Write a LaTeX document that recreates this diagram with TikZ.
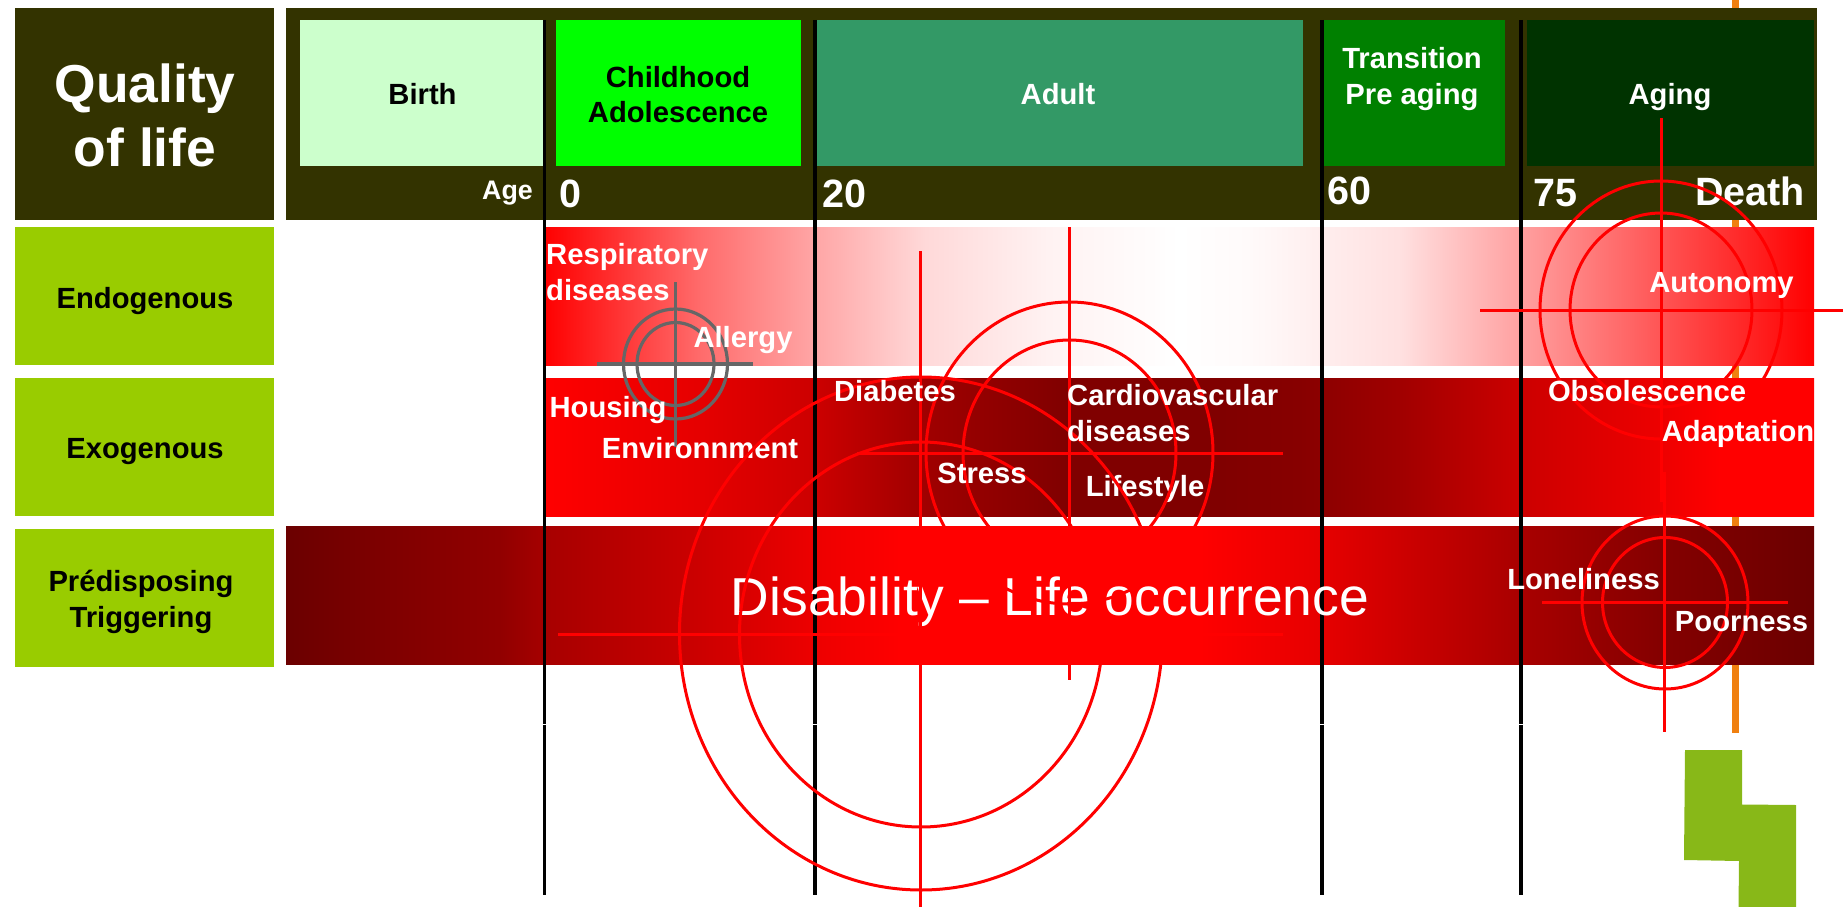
\documentclass[tikz,border=0pt]{standalone}
\usepackage{fontspec}
\setmainfont{Liberation Sans}
\definecolor{headbg}{HTML}{333300}
\definecolor{rowgreen}{HTML}{99CC00}
\definecolor{cBirth}{HTML}{CCFFCC}
\definecolor{cChild}{HTML}{00FF00}
\definecolor{cAdult}{HTML}{339966}
\definecolor{cTrans}{HTML}{008000}
\definecolor{cAging}{HTML}{003300}
\definecolor{lineorange}{HTML}{F08010}
\definecolor{logogreen}{HTML}{88B818}
\definecolor{greycross}{HTML}{666666}
\pgfdeclarehorizontalshading{endoshade}{100bp}{rgb(0bp)=(1,0,0);rgb(25bp)=(1,0,0);rgb(31.14bp)=(1,.42,.42);rgb(35.67bp)=(1,.65,.65);rgb(40bp)=(1,.85,.85);rgb(44.9bp)=(1,.95,.95);rgb(50.04bp)=(1,1,1);rgb(52.8bp)=(1,.98,.98);rgb(58.7bp)=(1,.88,.88);rgb(63.46bp)=(1,.627,.627);rgb(68.94bp)=(1,.333,.333);rgb(75bp)=(1,0,0);rgb(100bp)=(1,0,0)}
\pgfdeclarehorizontalshading{exoshade}{100bp}{rgb(0bp)=(1,0,0);rgb(25bp)=(1,0,0);rgb(31.14bp)=(.9,0,0);rgb(35.67bp)=(.8,0,0);rgb(39.8bp)=(.63,0,0);rgb(45.67bp)=(.5,0,0);rgb(51.38bp)=(.5,0,0);rgb(54.76bp)=(.53,0,0);rgb(58.7bp)=(.63,0,0);rgb(63.46bp)=(.8,0,0);rgb(68.94bp)=(.93,0,0);rgb(71.3bp)=(1,0,0);rgb(100bp)=(1,0,0)}
\pgfdeclarehorizontalshading{predshade}{100bp}{rgb(0bp)=(.42,0,0);rgb(25bp)=(.42,0,0);rgb(28.4bp)=(.5,0,0);rgb(32bp)=(.57,0,0);rgb(33.64bp)=(.66,0,0);rgb(38.55bp)=(.8,0,0);rgb(42.3bp)=(.93,0,0);rgb(45.1bp)=(1,0,0);rgb(54.9bp)=(1,0,0);rgb(58.93bp)=(.9,0,0);rgb(65.4bp)=(.66,0,0);rgb(69.96bp)=(.52,0,0);rgb(75bp)=(.42,0,0);rgb(100bp)=(.42,0,0)}
\tikzset{
  lbl/.style={inner sep=0pt,text=white,font=\fontsize{29.2}{35.6}\selectfont\bfseries,align=center},
  dark/.style={lbl,text=black},
  num/.style={lbl,font=\fontsize{39.5}{44}\selectfont\bfseries},
  redline/.style={draw=red,line width=3pt},
  greyline/.style={draw=greycross,line width=3.2pt},
  blackline/.style={draw=black,line width=3.2pt},
}
\begin{document}
\begin{tikzpicture}[x=1pt,y=-1pt]
\useasboundingbox (0,0) rectangle (1845,907);
% orange line and logo
\draw[draw=lineorange,line width=7pt] (1735,0) -- (1735,733);
\fill[logogreen] (1685,750) -- (1742,750) -- (1742,804.5) -- (1796,805) -- (1796,907) -- (1738.5,907) -- (1739,861) -- (1684,860) -- cycle;
% header
\fill[headbg] (15,8) rectangle (274,220);
\fill[headbg] (286,8) rectangle (1817,220);
\fill[cBirth] (300,20) rectangle (543,166);
\fill[cChild] (556,20) rectangle (801,166);
\fill[cAdult] (814.5,20) rectangle (1303,166);
\fill[cTrans] (1322,20) rectangle (1505,166);
\fill[cAging] (1527,20) rectangle (1814,166);
% left column
\fill[rowgreen] (15,227) rectangle (274,365);
\fill[rowgreen] (15,378) rectangle (274,516);
\fill[rowgreen] (15,529) rectangle (274,667);
% bands
\shade[shading=endoshade] (544,227) rectangle (1814,365);
\shade[shading=exoshade] (544,378) rectangle (1814,516);
\shade[shading=predshade] (286,526) rectangle (1814,664);
% age lines
\foreach \lx in {544.5,815,1322,1521}{
  \draw[blackline] (\lx,20) -- (\lx,723.5);
  \draw[blackline] (\lx,724.5) -- (\lx,895);
}
% grey target
\draw[greyline] (675.5,282) -- (675.5,447);
\draw[greyline] (597,364) -- (753,364);
\draw[greyline] (675.5,364) ellipse [x radius=52,y radius=55];
\draw[greyline] (675.5,364) ellipse [x radius=38.5,y radius=41.5];
% labels below the targets
\node[lbl,anchor=base] (death) at (1750,205.7) {\fontsize{39.5}{44}\selectfont Death};
\node[lbl,anchor=base] (environ) at (700,458) {Environnment};
\node[lbl,anchor=base] (lifestyle) at (1145,496.7) {Lifestyle};
\node[inner sep=0pt,text=white,font=\fontsize{53.4}{60}\selectfont,anchor=base] (disab) at (1050,615) {Disability – Life occurrence};
% red targets
\draw[redline] (920,251) -- (920,907);
\draw[redline] (558,634) -- (1283,634);
\draw[redline] (921,633.5) ellipse [x radius=241.5,y radius=256.5];
\draw[redline] (921,634.5) ellipse [x radius=181.5,y radius=192.5];
\draw[redline] (1069,227) -- (1069,680);
\draw[redline] (857,453) -- (1283,453);
\draw[redline] (1069.5,453) ellipse [x radius=143.5,y radius=151];
\draw[redline] (1069.5,453) ellipse [x radius=106.5,y radius=113];
\draw[redline] (1661,118) -- (1661,502);
\draw[redline] (1480,310) -- (1843,310);
\draw[redline] (1661,310) ellipse [x radius=121,y radius=129];
\draw[redline] (1661,310) ellipse [x radius=91,y radius=97];
\draw[redline] (1664.5,472) -- (1664.5,732);
\draw[redline] (1542,602) -- (1788,602);
\draw[redline] (1665,602.5) ellipse [x radius=83,y radius=86.5];
\draw[redline] (1665,602.5) ellipse [x radius=62.5,y radius=65];
% header text
\node[inner sep=0pt,text=white,align=center,font=\fontsize{53.4}{64}\selectfont\bfseries] (qol) at (145,115.5) {Quality\\of life};
\node[dark,anchor=base] (birth) at (422.5,104) {Birth};
\node[dark] (child) at (678,94.5) {Childhood\\Adolescence};
\node[lbl,anchor=base] (adult) at (1058,104) {Adult};
\node[lbl] (trans) at (1412,79) {Transition\\Pre aging};
\node[lbl,anchor=base] (aging) at (1670,104) {Aging};
\node[lbl,anchor=base east,font=\fontsize{26.8}{30}\selectfont\bfseries] (age) at (533,199) {Age};
\node[num,anchor=base] (a0) at (570,207.5) {0};
\node[num,anchor=base] (a20) at (844.5,207.5) {20};
\node[num,anchor=base] (a60) at (1349,204) {60};
\node[num,anchor=base] (a75) at (1555.5,206) {75};
% row labels
\node[dark,anchor=base] (endo) at (145,308) {Endogenous};
\node[dark,anchor=base] (exo) at (145,458) {Exogenous};
\node[dark] (pred) at (141,602) {Prédisposing\\Triggering};
% band labels
\node[lbl,anchor=west,align=left] (resp) at (546,272) {Respiratory\\diseases};
\node[lbl,anchor=base] (allergy) at (743,347) {Allergy};
\node[lbl,anchor=base] (housing) at (608,417) {Housing};
\node[lbl,anchor=base] (diab) at (895,401) {Diabetes};
\node[lbl,anchor=west,align=left] (cardio) at (1067,413) {Cardiovascular\\diseases};
\node[lbl,anchor=base] (stress) at (982,483) {Stress};
\node[lbl,anchor=base] (obso) at (1647,401) {Obsolescence};
\node[lbl,anchor=base] (adapt) at (1738,441) {Adaptation};
\node[lbl,anchor=base] (auto) at (1721.5,292.5) {Autonomy};
\node[lbl,anchor=base] (lonely) at (1583.5,589.5) {Loneliness};
\node[lbl,anchor=base] (poor) at (1741.5,631.5) {Poorness};
\end{tikzpicture}
\end{document}
